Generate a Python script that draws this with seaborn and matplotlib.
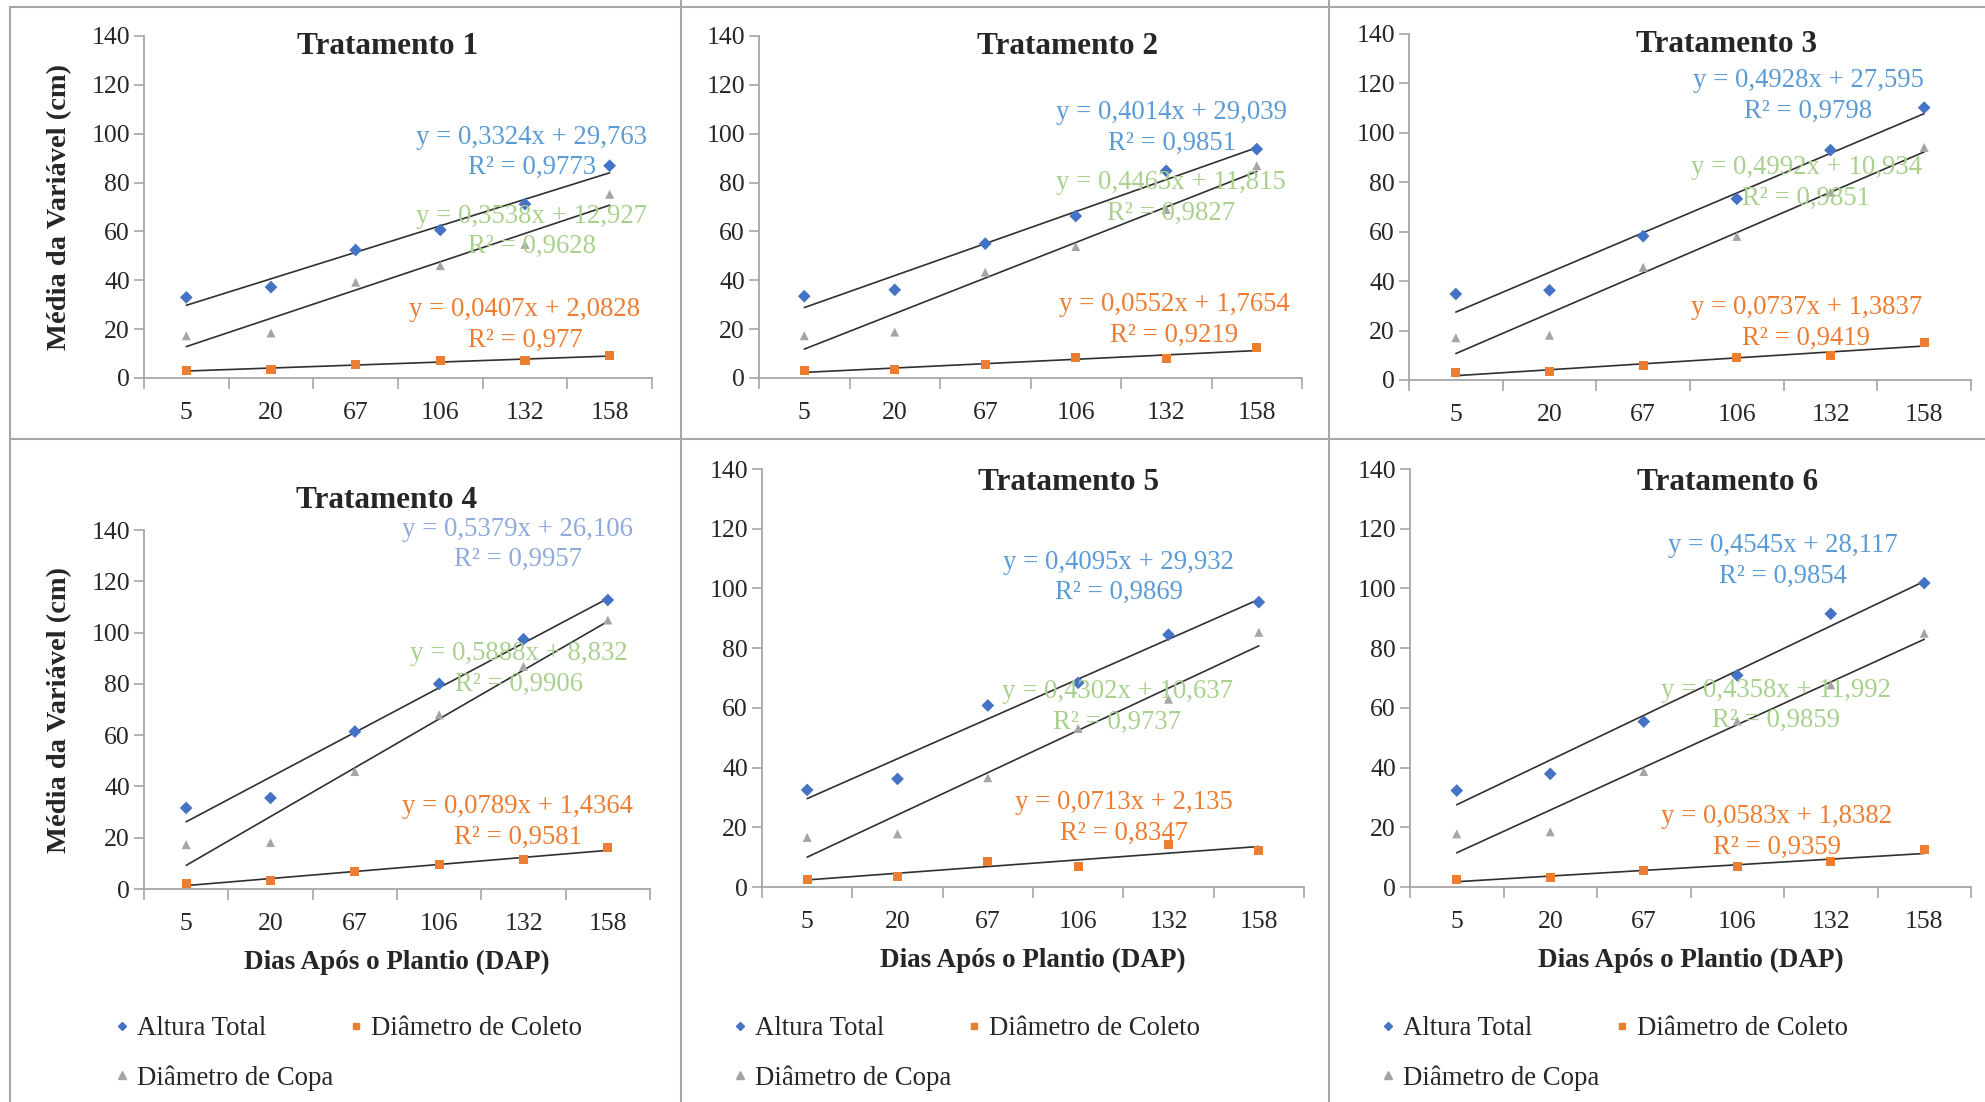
import numpy as np
import pandas as pd
import matplotlib.pyplot as plt
import seaborn as sns
from matplotlib.lines import Line2D

# Dados
dias = ['5', '20', '67', '106', '132', '158']
tratamentos = ['Tratamento 1', 'Tratamento 2', 'Tratamento 3',
               'Tratamento 4', 'Tratamento 5', 'Tratamento 6']

altura_total = [
    [33.0, 37.2, 52.4, 60.6, 71.2, 86.9],
    [33.5, 36.1, 55.0, 66.3, 84.8, 93.7],
    [34.8, 36.3, 58.2, 73.3, 93.0, 110.2],
    [31.6, 35.5, 61.4, 80.0, 97.4, 112.7],
    [32.5, 36.2, 60.8, 68.4, 84.5, 95.4],
    [32.3, 37.9, 55.4, 70.9, 91.5, 101.8],
]
diametro_coleto = [
    [3.0, 3.5, 5.6, 7.2, 7.1, 9.1],
    [3.0, 3.5, 5.6, 8.2, 8.0, 12.3],
    [3.0, 3.4, 5.9, 9.0, 9.9, 15.3],
    [2.2, 3.2, 6.9, 9.5, 11.4, 16.0],
    [2.5, 3.5, 8.6, 6.9, 14.2, 12.1],
    [2.6, 3.2, 5.5, 6.8, 8.5, 12.4],
]
diametro_copa = [
    [17.3, 18.4, 39.2, 46.0, 54.7, 75.2],
    [17.3, 18.8, 43.3, 53.8, 69.0, 86.9],
    [17.1, 18.1, 45.6, 58.1, 76.0, 94.1],
    [17.3, 18.1, 45.8, 67.9, 86.8, 104.9],
    [16.6, 17.8, 36.6, 53.1, 62.9, 85.3],
    [17.8, 18.5, 38.7, 55.6, 67.7, 85.0],
]

eq_altura = [
    'y = 0,3324x + 29,763\nR² = 0,9773',
    'y = 0,4014x + 29,039\nR² = 0,9851',
    'y = 0,4928x + 27,595\nR² = 0,9798',
    'y = 0,5379x + 26,106\nR² = 0,9957',
    'y = 0,4095x + 29,932\nR² = 0,9869',
    'y = 0,4545x + 28,117\nR² = 0,9854',
]
eq_copa = [
    'y = 0,3538x + 12,927\nR² = 0,9628',
    'y = 0,4463x + 11,815\nR² = 0,9827',
    'y = 0,4992x + 10,934\nR² = 0,9851',
    'y = 0,5888x + 8,832\nR² = 0,9906',
    'y = 0,4302x + 10,637\nR² = 0,9737',
    'y = 0,4358x + 11,992\nR² = 0,9859',
]
eq_coleto = [
    'y = 0,0407x + 2,0828\nR² = 0,977',
    'y = 0,0552x + 1,7654\nR² = 0,9219',
    'y = 0,0737x + 1,3837\nR² = 0,9419',
    'y = 0,0789x + 1,4364\nR² = 0,9581',
    'y = 0,0713x + 2,135\nR² = 0,8347',
    'y = 0,0583x + 1,8382\nR² = 0,9359',
]

# Layout (pixels of a 1985x1102 figure)
W, H = 1985, 1102
# left, right, y of 0, y of 140
axes_px = [
    (144, 652, 378, 36), (759, 1302, 378, 36), (1409, 1971, 380, 34),
    (144, 650, 889, 530), (762, 1304, 887, 469), (1410, 1971, 887, 469),
]
title_px = [(388, 47), (1068, 47), (1727, 45), (387, 501), (1069, 483), (1728, 482)]
# equation block centres (category position, value)
eq_pos = [
    [(4.08, 92.3), (4.08, 60.0), (4.0, 21.7)],
    [(4.06, 102.5), (4.05, 73.7), (4.09, 23.7)],
    [(3.76, 114.9), (3.74, 79.8), (3.74, 23.1)],
    [(3.93, 134.4), (3.95, 85.9), (3.93, 26.3)],
    [(3.45, 103.7), (3.43, 60.4), (3.51, 23.0)],
    [(3.49, 109.3), (3.41, 60.8), (3.42, 18.5)],
]

cor_altura = '#4472C4'
cor_coleto = '#ED7D31'
cor_copa = '#A5A5A5'
cor_eq_altura = ['#5B9BD5'] * 3 + ['#8FAADC'] + ['#5B9BD5'] * 2
cor_eq_copa = '#A9D18E'
cor_eixo = '#A6A6A6'

sns.set_style('white')
plt.rcParams['font.family'] = ['Liberation Serif', 'DejaVu Serif']
fs = 18.5
fs_eq = 19.3

fig = plt.figure(figsize=(W / 100, H / 100), dpi=100)

for i in range(6):
    l, r, y0, y1 = axes_px[i]
    ax = fig.add_axes([l / W, 1 - y0 / H, (r - l) / W, (y0 - y1) / H])
    pos = np.arange(len(dias))
    df = pd.DataFrame({'pos': pos,
                       'Altura Total': altura_total[i],
                       'Diâmetro de Coleto': diametro_coleto[i],
                       'Diâmetro de Copa': diametro_copa[i]})
    longo = df.melt(id_vars='pos', var_name='serie', value_name='valor')

    for serie in ['Altura Total', 'Diâmetro de Copa', 'Diâmetro de Coleto']:
        sns.regplot(data=df, x='pos', y=serie, scatter=False, ci=None,
                    color='#303030', line_kws={'lw': 1.2}, ax=ax)

    sns.scatterplot(data=longo, x='pos', y='valor', hue='serie', style='serie',
                    palette={'Altura Total': cor_altura, 'Diâmetro de Coleto': cor_coleto,
                             'Diâmetro de Copa': cor_copa},
                    markers={'Altura Total': 'D', 'Diâmetro de Coleto': 's',
                             'Diâmetro de Copa': '^'},
                    s=42, linewidth=0, legend=False, ax=ax, zorder=3)

    ax.set_xlim(-0.5, 5.5)
    ax.set_ylim(0, 140)
    ax.set_yticks(range(0, 141, 20))
    ax.set_xticks(np.arange(-0.5, 6, 1))
    ax.set_xticklabels([])
    ax.set_xticks(pos, minor=True)
    ax.set_xticklabels(dias, minor=True)
    ax.tick_params(axis='x', which='major', length=8, width=1.2, color=cor_eixo, bottom=True)
    ax.tick_params(axis='x', which='minor', length=0, pad=17, labelsize=fs)
    ax.tick_params(axis='y', length=7, width=1.2, color=cor_eixo, left=True, pad=3, labelsize=fs)
    for s in ['top', 'right']:
        ax.spines[s].set_visible(False)
    for s in ['left', 'bottom']:
        ax.spines[s].set_color(cor_eixo)
        ax.spines[s].set_linewidth(1.3)
    ax.set_ylabel('')
    ax.set_xlabel('')

    # equacoes das linhas de tendencia
    (xa, ya), (xc, yc), (xo, yo) = eq_pos[i]
    ax.text(xa, ya, eq_altura[i], color=cor_eq_altura[i], fontsize=fs_eq,
            ha='center', va='center', linespacing=1.3, zorder=4)
    ax.text(xc, yc, eq_copa[i], color=cor_eq_copa, fontsize=fs_eq,
            ha='center', va='center', linespacing=1.3, zorder=4)
    ax.text(xo, yo, eq_coleto[i], color=cor_coleto, fontsize=fs_eq,
            ha='center', va='center', linespacing=1.3, zorder=4)

    tx, ty = title_px[i]
    fig.text(tx / W, 1 - ty / H, tratamentos[i], fontsize=22.5, fontweight='bold',
             ha='center', va='center')

    if i >= 3:
        ax.set_xlabel('Dias Após o Plantio (DAP)', fontsize=19.5, fontweight='bold',
                      labelpad=11)
        handles = [
            Line2D([], [], ls='none', marker='D', color=cor_altura, markersize=4.5),
            Line2D([], [], ls='none', marker='^', color=cor_copa, markersize=5.5),
            Line2D([], [], ls='none', marker='s', color=cor_coleto, markersize=5),
        ]
        fig.legend(handles, ['Altura Total', 'Diâmetro de Copa', 'Diâmetro de Coleto'],
                   ncol=2, loc='upper left',
                   bbox_to_anchor=((l - 30) / W, 1 - 1016 / H),
                   frameon=False, fontsize=19.3, handlelength=0.6, handletextpad=0.25,
                   columnspacing=0.55, labelspacing=0.9, borderpad=0, borderaxespad=0)

# rotulos do eixo y
for yc in [207, 710]:
    fig.text(60 / W, 1 - yc / H, 'Média da Variável (cm)', fontsize=20.5,
             fontweight='bold', rotation=90, ha='center', va='center')

# molduras dos graficos
molduras = [((10, 10), (7, H)), ((681, 681), (0, H)), ((1329, 1329), (0, H)),
            ((10, W), (439, 439)), ((10, W), (7, 7))]
for (xs, ys) in molduras:
    fig.add_artist(Line2D([x / W for x in xs], [1 - y / H for y in ys],
                          color='#A6A6A6', lw=1.5))

fig.savefig('out.png', dpi=100)
